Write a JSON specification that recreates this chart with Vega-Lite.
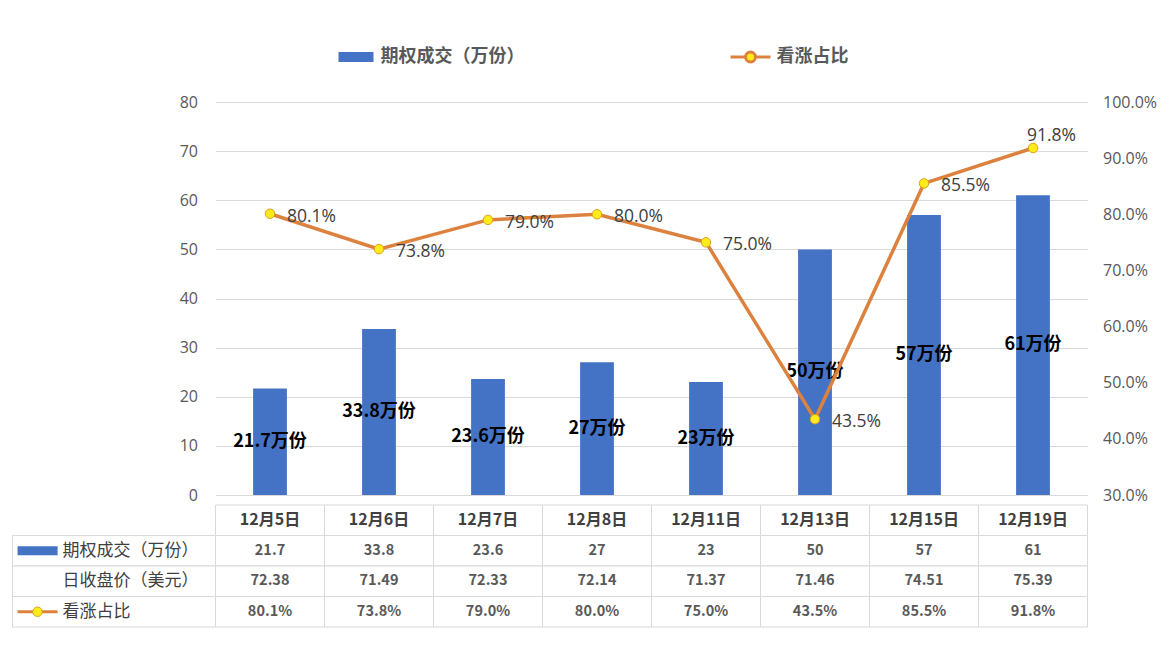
{
  "$schema": "https://vega.github.io/schema/vega-lite/v6.json",
  "background": "white",
  "padding": {"left": 11.5, "top": 48, "right": 10, "bottom": 10},
  "config": {"view": {"stroke": null}, "font": "Noto Sans CJK SC"},
  "bounds": "flush",
  "spacing": 10,
  "datasets": {
    "days": [
      {"date": "12月5日", "volume": 21.7, "close": 72.38, "ratio": 0.801},
      {"date": "12月6日", "volume": 33.8, "close": 71.49, "ratio": 0.738},
      {"date": "12月7日", "volume": 23.6, "close": 72.33, "ratio": 0.79},
      {"date": "12月8日", "volume": 27, "close": 72.14, "ratio": 0.8},
      {"date": "12月11日", "volume": 23, "close": 71.37, "ratio": 0.75},
      {"date": "12月13日", "volume": 50, "close": 71.46, "ratio": 0.435},
      {"date": "12月15日", "volume": 57, "close": 74.51, "ratio": 0.855},
      {"date": "12月19日", "volume": 61, "close": 75.39, "ratio": 0.918}
    ],
    "rows": [
      {"row": "volumeText", "label": "期权成交（万份）"},
      {"row": "closeText", "label": "日收盘价（美元）"},
      {"row": "ratioText", "label": "看涨占比"}
    ]
  },
  "vconcat": [
    {
      "width": 872,
      "height": 393,
      "data": {"name": "days"},
      "encoding": {
        "x": {"field": "date", "type": "nominal", "sort": null, "axis": null,
              "scale": {"paddingInner": 0, "paddingOuter": 0}}
      },
      "layer": [
        {
          "mark": {"type": "bar", "width": {"band": 0.31}},
          "encoding": {
            "y": {"field": "volume", "type": "quantitative", "scale": {"domain": [0, 80]},
                  "axis": {"orient": "left", "title": null, "values": [0, 10, 20, 30, 40, 50, 60, 70, 80],
                           "domain": false, "ticks": false, "tickSize": 0, "labelPadding": 18,
                           "gridColor": "#D9D9D9", "labelColor": "#595959", "labelFontSize": 16,
                           "labelFont": "Open Sans"}},
            "fill": {"datum": "期权成交（万份）", "scale": {"range": ["#4472C4"]},
                     "legend": {"orient": "none", "legendX": 131.5, "legendY": -54, "title": null,
                                "symbolType": "M-3.5,-1H3.5V1H-3.5Z", "symbolSize": 100,
                                "symbolStrokeWidth": 0, "labelOffset": 15.5, "labelFontSize": 18,
                                "labelFontWeight": "bold", "labelColor": "#595959"}}
          }
        },
        {
          "transform": [{"calculate": "datum.volume + '万份'", "as": "label"}],
          "mark": {"type": "text", "fontWeight": "bold", "fontSize": 18, "color": "black"},
          "encoding": {
            "y": {"field": "volume", "type": "quantitative", "scale": {"domain": [0, 160]}, "axis": null},
            "text": {"field": "label", "type": "nominal"}
          }
        },
        {
          "encoding": {
            "y": {"field": "ratio", "type": "quantitative", "scale": {"domain": [0.3, 1]},
                  "axis": {"orient": "right", "title": null, "values": [0.3, 0.4, 0.5, 0.6, 0.7, 0.8, 0.9, 1.0],
                           "format": ".1%", "grid": false, "domain": false, "ticks": false, "tickSize": 0,
                           "labelPadding": 15, "labelColor": "#595959", "labelFontSize": 16,
                           "labelFont": "Open Sans"}}
          },
          "layer": [
            {
              "mark": {"type": "line", "strokeWidth": 3.5},
              "encoding": {
                "stroke": {"datum": "看涨占比", "scale": {"range": ["#DC823E"]},
                           "legend": {"orient": "none", "legendX": 526, "legendY": -54, "title": null,
                                      "symbolType": "M-4,0H-1M1,0H4M1,0A1,1 0 1,1 -1,0A1,1 0 1,1 1,0",
                                      "symbolSize": 100, "symbolFillColor": "#FFEB1A",
                                      "symbolStrokeWidth": 3, "labelOffset": 17, "labelFontSize": 18,
                                      "labelFontWeight": "bold", "labelColor": "#595959"}}
              }
            },
            {
              "mark": {"type": "point", "filled": true, "fill": "#FFEB1A", "stroke": "#D9A21E",
                       "strokeWidth": 1, "size": 90, "opacity": 1}
            },
            {
              "transform": [{"filter": "datum.date !== '12月19日'"}],
              "mark": {"type": "text", "align": "left", "dx": 17, "dy": 3, "fontSize": 17.5,
                       "color": "#404040", "font": "Open Sans"},
              "encoding": {"text": {"field": "ratio", "type": "quantitative", "format": ".1%"}}
            },
            {
              "transform": [{"filter": "datum.date === '12月19日'"}],
              "mark": {"type": "text", "align": "left", "dx": -6, "dy": -12, "fontSize": 17.5,
                       "color": "#404040", "font": "Open Sans"},
              "encoding": {"text": {"field": "ratio", "type": "quantitative", "format": ".1%"}}
            }
          ]
        }
      ],
      "resolve": {"scale": {"y": "independent"}}
    },
    {
      "width": 872,
      "height": 122,
      "layer": [
        {
          "data": {"name": "days"},
          "transform": [
            {"calculate": "format(datum.close, '.2f')", "as": "closeText"},
            {"calculate": "format(datum.ratio, '.1%')", "as": "ratioText"},
            {"calculate": "'' + datum.volume", "as": "volumeText"},
            {"fold": ["date", "volumeText", "closeText", "ratioText"], "as": ["row", "cell"]}
          ],
          "encoding": {
            "x": {"field": "date", "type": "nominal", "sort": null, "axis": null,
                  "scale": {"paddingInner": 0, "paddingOuter": 0}},
            "y": {"field": "row", "type": "nominal", "axis": null,
                  "scale": {"domain": ["date", "volumeText", "closeText", "ratioText"], "paddingInner": 0, "paddingOuter": 0}}
          },
          "layer": [
            {"mark": {"type": "rect", "fill": "white", "stroke": "#D9D9D9", "strokeWidth": 1}},
            {
              "mark": {"type": "text", "fontWeight": "bold"},
              "encoding": {
                "text": {"field": "cell", "type": "nominal"},
                "color": {"condition": {"test": "datum.row === 'date'", "value": "#404040"}, "value": "#595959"},
                "size": {"condition": {"test": "datum.row === 'date'", "value": 16}, "value": 14.5}
              }
            }
          ]
        },
        {
          "data": {"name": "rows"},
          "encoding": {
            "y": {"field": "row", "type": "nominal", "axis": null}
          },
          "layer": [
            {
              "mark": {"type": "rect", "fill": "white", "stroke": "#D9D9D9", "strokeWidth": 1},
              "encoding": {
                "x": {"datum": 0, "type": "quantitative", "axis": null,
                      "scale": {"domain": [0, 1], "range": [-203, 0]}},
                "x2": {"datum": 1}
              }
            },
            {
              "mark": {"type": "text", "align": "left", "fontSize": 17, "color": "#404040"},
              "encoding": {
                "x": {"datum": 0.246, "type": "quantitative"},
                "text": {"field": "label", "type": "nominal"}
              }
            },
            {
              "transform": [{"filter": "datum.row === 'volumeText'"}],
              "mark": {"type": "rule", "color": "#4472C4", "strokeWidth": 9},
              "encoding": {
                "x": {"datum": 0.025, "type": "quantitative"},
                "x2": {"datum": 0.222}
              }
            },
            {
              "transform": [{"filter": "datum.row === 'ratioText'"}],
              "mark": {"type": "rule", "color": "#DC823E", "strokeWidth": 3},
              "encoding": {
                "x": {"datum": 0.025, "type": "quantitative"},
                "x2": {"datum": 0.222}
              }
            },
            {
              "transform": [{"filter": "datum.row === 'ratioText'"}],
              "mark": {"type": "point", "filled": true, "fill": "#FFEB1A", "stroke": "#D9A21E",
                       "strokeWidth": 1, "size": 90, "opacity": 1},
              "encoding": {
                "x": {"datum": 0.123, "type": "quantitative"}
              }
            }
          ]
        }
      ],
      "resolve": {"scale": {"x": "independent"}}
    }
  ]
}
